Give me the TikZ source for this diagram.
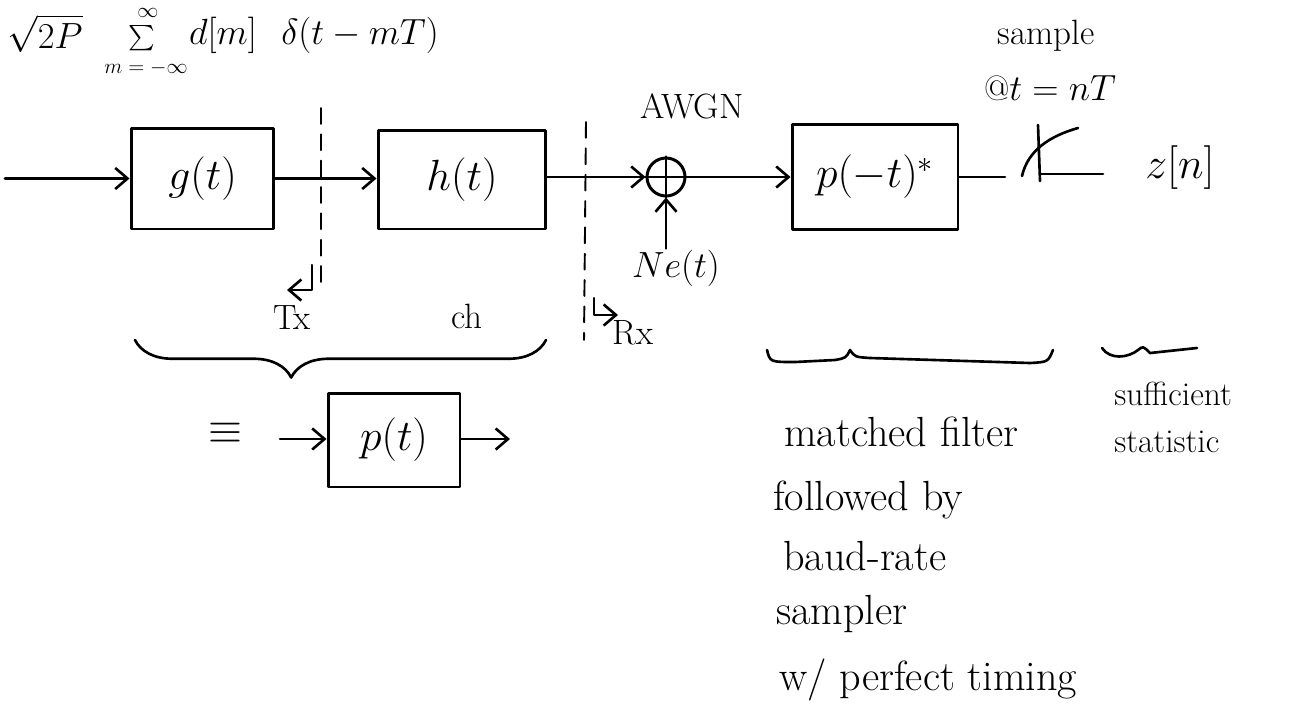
\documentclass[tikz,border=0pt]{standalone}
\usepackage{amsmath}
\usetikzlibrary{arrows.meta,decorations.pathreplacing,calc}
\begin{document}
\begin{tikzpicture}[x=0.02cm,y=-0.02cm, line width=1.5pt, line cap=round, line join=round,
  blk/.style={draw, line width=1.7pt, inner sep=0pt},
  arr/.style={-{Straight Barb[length=7pt,width=12pt,line width=1.5pt]}},
  big/.style={font=\fontsize{26}{30}\selectfont, inner sep=0pt},
  lbl/.style={font=\fontsize{20}{24}\selectfont, inner sep=0pt},
  tiny/.style={font=\fontsize{12}{14}\selectfont, inner sep=0pt},
  note/.style={font=\fontsize{24}{28}\selectfont, inner sep=0pt, anchor=base west},
  small/.style={font=\fontsize{19}{23}\selectfont, inner sep=0pt, anchor=base west},
  dline/.style={line width=1.1pt, dash pattern=on 9pt off 6pt}]
\useasboundingbox (0,0) rectangle (1314,724);

% top formula
\node[lbl, anchor=base] (sq) at (45,48) {$\sqrt{2P}$};
\node[lbl, font=\fontsize{15}{18}\selectfont, anchor=base] (sm) at (142,44) {$\sum$};
\node[tiny] (smu) at (148,13) {$\infty$};
\node[tiny] (sml) at (146,68) {$m=-\infty$};
\node[lbl, anchor=base] (dm) at (223,44) {$d[m]$};
\node[lbl, anchor=base] (dl) at (360,44) {$\delta(t-mT)$};

% blocks
\node[blk, minimum width=2.86cm, minimum height=2.02cm] (g) at (202.5,178.5) {};
\node[big] at (g) {$g(t)$};
\node[blk, minimum width=3.36cm, minimum height=1.98cm] (h) at (462,179.5) {};
\node[big] at (h) {$h(t)$};
\node[blk, circle, minimum size=0.76cm] (sum) at (666,177) {};
\draw[line width=1.3pt] (sum.west) -- (sum.east) (sum.north) -- (sum.south);
\node[blk, minimum width=3.32cm, minimum height=2.1cm] (pm) at (875,177) {};
\node[big, font=\fontsize{24}{28}\selectfont] at (pm) {$p(-t)^{*}$};

% connectors
\coordinate (in) at (5,178.5);
\draw[arr] (in) -- (g.west);
\draw[arr] (g.east) -- (h.west |- g.east);
\draw[arr] (h.east |- sum) -- (sum.west);
\draw[arr] (sum.east) -- (pm.west);

% noise
\node[lbl] (ne) at (676,268) {$Ne(t)$};
\draw[arr] (ne.north -| sum) -- (sum.south);
\node[lbl] (awgn) at (692,106) {AWGN};

% sampler
\coordinate (sw1) at (1005,177);
\coordinate (sw2) at (1022,176);
\coordinate (sw3) at (1078,128);
\coordinate (sw4) at (1038,125);
\coordinate (sw5) at (1040,181);
\coordinate (sw6) at (1040,174);
\coordinate (sw7) at (1103,174);
\draw (pm.east) -- (sw1);
\draw (sw2) .. controls (1028,150) and (1050,136) .. (sw3);
\draw (sw4) -- (sw5);
\draw (sw6) -- (sw7);
\node[big] (zn) at (1180,168) {$z[n]$};
\node[lbl] (smp) at (1046,36) {sample};
\node[lbl] (at) at (1050,88) {@$t=nT$};

% dashed separators
\coordinate (d1a) at (321,108);
\coordinate (d1b) at (321,285);
\draw[dline] (d1a) -- (d1b);
\coordinate (d2a) at (586,122);
\coordinate (d2b) at (584,340);
\draw[dline] (d2a) -- (d2b);
\coordinate (tx1) at (312,265);
\coordinate (tx2) at (312,290);
\coordinate (tx3) at (287,290);
\draw[arr, line width=1.2pt] (tx1) -- (tx2) -- (tx3);
\coordinate (rx1) at (594,298);
\coordinate (rx2) at (594,315);
\coordinate (rx3) at (618,315);
\draw[arr, line width=1.2pt] (rx1) -- (rx2) -- (rx3);
\node[lbl] (tx) at (292,318) {Tx};
\node[lbl] (ch) at (467,316) {ch};
\node[lbl] (rx) at (633,333) {Rx};

% brace under g,h
\coordinate (b1a) at (135,340);
\coordinate (b1b) at (546,340);
\draw[decorate, decoration={brace, mirror, amplitude=0.75cm, aspect=0.38}] (b1a) -- (b1b);

% equivalent
\node[big] (eq) at (225,433) {$\equiv$};
\node[blk, minimum width=2.64cm, minimum height=1.88cm] (p) at (394,440) {};
\node[big, font=\fontsize{23}{27}\selectfont] at (p) {$p(t)$};
\coordinate (pin) at (280,439);
\coordinate (pout) at (510,439);
\draw[arr] (pin) -- (pin -| p.west);
\draw[arr] (pout -| p.east) -- (pout);

% brace under matched filter
\draw (767,350) .. controls (770,362) .. (795,362) -- (835,360) .. controls (846,358) .. (850,350)
      .. controls (855,357) .. (870,358) -- (1030,363) .. controls (1048,362) .. (1053,350);
% tilde over sufficient statistic
\draw (1102,348) .. controls (1110,360) and (1128,358) .. (1138,350) .. controls (1143,346) .. (1150,353) -- (1197,348);

% notes
\node[note] (n1) at (783,446) {matched filter};
\node[note] (n2) at (772,510) {followed by};
\node[note] (n3) at (782,570) {baud-rate};
\node[note] (n4) at (775,624) {sampler};
\node[note] (n5) at (778,690) {w/ perfect timing};
\node[small] (s1) at (1113,405) {sufficient};
\node[small] (s2) at (1113,452) {statistic};
\end{tikzpicture}
\end{document}
